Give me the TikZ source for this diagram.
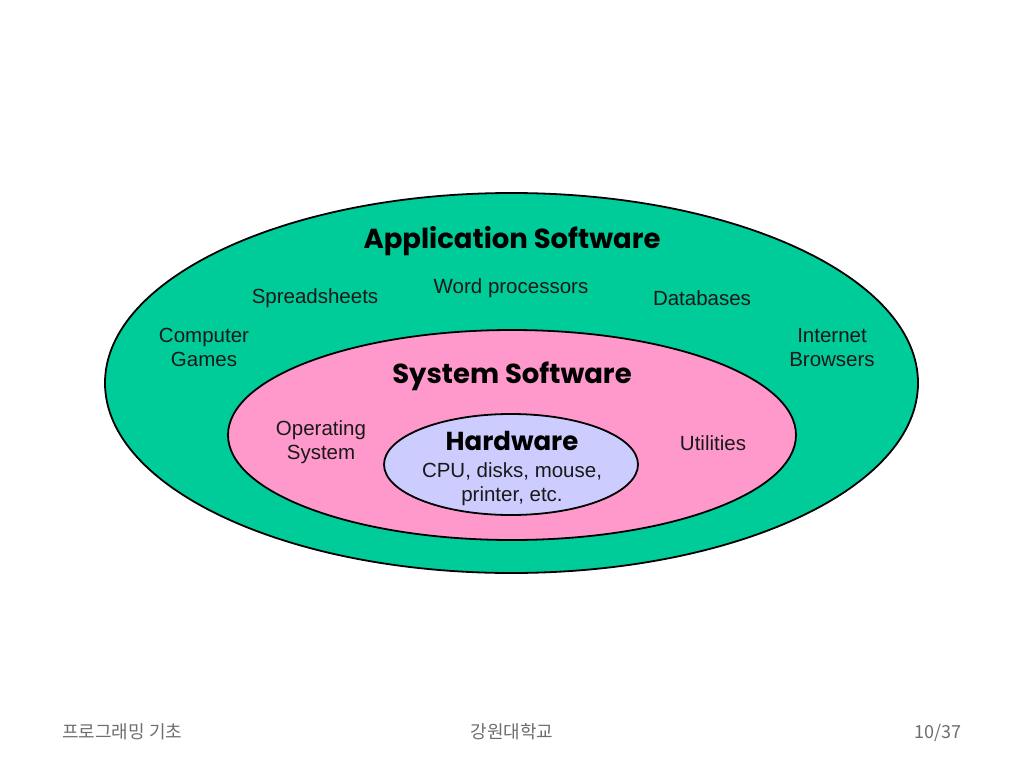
\documentclass[tikz,border=0pt]{standalone}
\usepackage{fontspec}
\setmainfont{Liberation Sans}
\newfontfamily\titlefont{Poppins}
\newfontfamily\kr{Noto Sans CJK KR}
\usetikzlibrary{shapes.geometric}
\definecolor{appgreen}{RGB}{0,204,153}
\definecolor{syspink}{RGB}{255,153,204}
\definecolor{hwblue}{RGB}{204,204,255}
\definecolor{footgray}{RGB}{110,110,110}
\tikzset{
  layer/.style={ellipse, draw=black, line width=1.8pt, inner sep=0pt},
  lbl/.style={font=\fontsize{20.5}{23.5}\selectfont, align=center, inner sep=0pt, text=black!90},
  ttl/.style={font=\titlefont\bfseries\fontsize{27.5}{30}\selectfont, inner sep=0pt},
  foot/.style={font=\kr\fontsize{18}{20}\selectfont, text=footgray, inner sep=0pt}
}
\begin{document}
\begin{tikzpicture}[x=1pt,y=-1pt]
\useasboundingbox (0,0) rectangle (1024,768);
\node[layer, fill=appgreen, minimum width=813pt, minimum height=380pt] (app) at (511.5,383) {};
\node[layer, fill=syspink, minimum width=568pt, minimum height=210pt] (sys) at (512,435) {};
\node[layer, fill=hwblue, minimum width=254pt, minimum height=101pt] (hw) at (511,464.5) {};
\node[ttl] (appt) at (512,241) {Application Software};
\node[lbl] (word) at (511,288) {Word processors};
\node[lbl] (spread) at (315,298) {Spreadsheets};
\node[lbl] (db) at (702,298) {Databases};
\node[lbl] (games) at (204,347.5) {Computer\\Games};
\node[lbl] (browse) at (832,347.5) {Internet\\Browsers};
\node[ttl] (syst) at (512,376) {System Software};
\node[lbl] (os) at (321,442) {Operating\\System};
\node[lbl] (util) at (713,443) {Utilities};
\node[ttl, font=\titlefont\bfseries\fontsize{26}{30}\selectfont] (hwt) at (512,441) {Hardware};
\node[lbl] (cpu) at (512,484) {CPU, disks, mouse,\\printer, etc.};
\node[foot, anchor=west] (f1) at (62,732) {프로그래밍 기초};
\node[foot] (f2) at (512,732) {강원대학교};
\node[foot, anchor=east] (f3) at (962,733) {10/37};
\end{tikzpicture}
\end{document}
